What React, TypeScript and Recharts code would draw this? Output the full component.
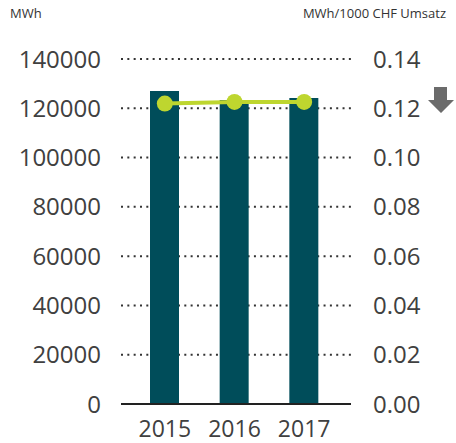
import React from 'react';
import { ComposedChart, Bar, Line, XAxis, YAxis, CartesianGrid, ReferenceLine } from 'recharts';

const years = ['2015', '2016', '2017'];
const energyMWh = [127000, 123400, 124200];
const intensity = [0.1219, 0.1226, 0.1226];
const leftTicks = [0, 20000, 40000, 60000, 80000, 100000, 120000, 140000];
const rightTicks = [0, 0.02, 0.04, 0.06, 0.08, 0.1, 0.12, 0.14];

const data = years.map((y, i) => ({ year: y, energy: energyMWh[i], intensity: intensity[i] }));

const FONT = '"Open Sans", sans-serif';
const tickStyle = { fontSize: 24, fill: '#404040', fontFamily: FONT };

export default function App() {
  return (
    <div style={{ position: 'absolute', left: 0, top: 0, width: 456, height: 443, background: '#fff' }}>
      <div style={{ position: 'absolute', left: 10, top: 4, fontFamily: FONT, fontSize: 13, color: '#333' }}>MWh</div>
      <div style={{ position: 'absolute', right: 10, top: 4, fontFamily: FONT, fontSize: 13, color: '#333' }}>MWh/1000 CHF Umsatz</div>
      <ComposedChart width={456} height={443} data={data} margin={{ top: 59, right: 0, bottom: 0, left: 0 }}>
        <CartesianGrid vertical={false} horizontal stroke="#333" strokeWidth={2} strokeDasharray="2 4.33" yAxisId="left" />
        <XAxis
          dataKey="year"
          axisLine={false}
          tickLine={false}
          height={39}
          tickSize={0}
          tickMargin={17}
          padding={{ left: 9, right: 12 }}
          tick={{ ...tickStyle, fontSize: 23 }}
          interval={0}
        />
        <YAxis
          yAxisId="left"
          orientation="left"
          width={121}
          domain={[0, 140000]}
          ticks={leftTicks}
          axisLine={false}
          tickLine={false}
          tickSize={0}
          tickMargin={20}
          tick={tickStyle}
          interval={0}
        />
        <YAxis
          yAxisId="right"
          orientation="right"
          width={105}
          domain={[0, 0.14]}
          ticks={rightTicks}
          tickFormatter={(v: number) => v.toFixed(2)}
          axisLine={false}
          tickLine={false}
          tickSize={0}
          tickMargin={22}
          tick={{ ...tickStyle, textAnchor: 'start' }}
          interval={0}
        />
        <Bar yAxisId="left" dataKey="energy" fill="#004d5a" barSize={29} isAnimationActive={false} />
        <ReferenceLine yAxisId="left" y={0} stroke="#222" strokeWidth={2} />
        <Line
          yAxisId="right"
          dataKey="intensity"
          stroke="#bed62f"
          strokeWidth={4}
          dot={{ r: 8, fill: '#bed62f', stroke: 'none' }}
          isAnimationActive={false}
        />
      </ComposedChart>
      <svg style={{ position: 'absolute', left: 0, top: 0 }} width={456} height={443} pointerEvents="none">
        <polygon points="434,87 447,87 447,100 454,100 441,113 428,100 434,100" fill="#6b6b6b" />
      </svg>
    </div>
  );
}
